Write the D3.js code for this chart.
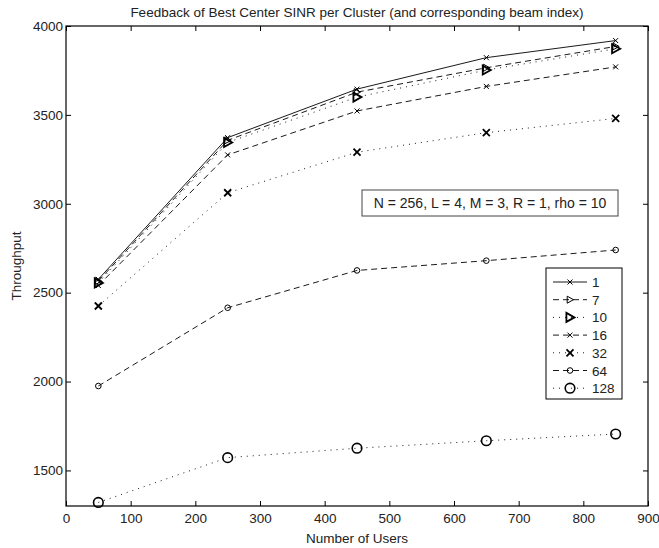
<!DOCTYPE html>
<html>
<head>
<meta charset="utf-8"/>
<script src="https://d3js.org/d3.v7.min.js"></script>
<style>
  body { margin: 0; background: #fff; }
  text { font-family: "Liberation Sans", Arial, sans-serif; fill: #222; }
</style>
</head>
<body>
<div id="chart"></div>
<script>
    // data
    var users = [50, 250, 450, 650, 850];
    var labels = ["1", "7", "10", "16", "32", "64", "128"];
    var s1   = [2575, 3372, 3645, 3822, 3918];
    var s7   = [2565, 3357, 3628, 3765, 3885];
    var s10  = [2555, 3345, 3600, 3752, 3872];
    var s16  = [2540, 3275, 3522, 3660, 3770];
    var s32  = [2425, 3062, 3290, 3400, 3480];
    var s64  = [1975, 2415, 2625, 2680, 2740];
    var s128 = [1320, 1572, 1625, 1667, 1705];
    var xTicks = [0, 100, 200, 300, 400, 500, 600, 700, 800, 900];
    var yTicks = [1500, 2000, 2500, 3000, 3500, 4000];

    var series = [s1, s7, s10, s16, s32, s64, s128];
    // line dash and marker per series
    var dash = [null, "6,4", "1,5", "6,4", "1,5", "6,4", "1,5"];
    var marker = ["x", "tri", "triB", "x", "xB", "o", "oB"];

    var width = 659, height = 548;
    var margin = {top: 26, right: 11, bottom: 42, left: 66};
    var w = width - margin.left - margin.right,
        h = height - margin.top - margin.bottom;

    var svg = d3.select("#chart").append("svg")
        .attr("width", width)
        .attr("height", height);

    var g = svg.append("g")
        .attr("transform", "translate(" + margin.left + "," + margin.top + ")");

    var x = d3.scaleLinear().domain([0, 900]).range([0, w]);
    var y = d3.scaleLinear().domain([1300, 4000]).range([h, 0]);

    // axes, MATLAB box style with ticks inside on all sides
    function styleAxis(sel) {
        sel.select(".domain").remove();
        sel.selectAll("line").attr("stroke", "#000");
        sel.selectAll("text").style("font-size", "13.5px").attr("fill", "#222");
    }
    g.append("g").attr("transform", "translate(0," + h + ")")
        .call(d3.axisBottom(x).tickValues(xTicks).tickSize(-5).tickPadding(7))
        .call(styleAxis);
    g.append("g")
        .call(d3.axisTop(x).tickValues(xTicks).tickSize(-5).tickFormat(""))
        .call(styleAxis);
    g.append("g")
        .call(d3.axisLeft(y).tickValues(yTicks).tickSize(-5).tickPadding(3).tickFormat(d3.format("d")))
        .call(styleAxis);
    g.append("g").attr("transform", "translate(" + w + ",0)")
        .call(d3.axisRight(y).tickValues(yTicks).tickSize(-5).tickFormat(""))
        .call(styleAxis);

    g.append("rect")
        .attr("width", w).attr("height", h)
        .attr("fill", "none").attr("stroke", "#000").attr("stroke-width", 1.2);

    var line = d3.line()
        .x(function(d, i) { return x(users[i]); })
        .y(function(d) { return y(d); });

    function drawMarker(sel, type, cx, cy) {
        var m = sel.append("g").attr("transform", "translate(" + cx + "," + cy + ")")
            .attr("fill", "none").attr("stroke", "#000");
        if (type == "x" || type == "xB") {
            var s = type == "x" ? 2.5 : 3.5;
            m.append("path").attr("d", "M" + (-s) + "," + (-s) + "L" + s + "," + s + "M" + (-s) + "," + s + "L" + s + "," + (-s))
                .attr("stroke-width", type == "x" ? 1 : 1.8);
        } else if (type == "tri" || type == "triB") {
            var s = type == "tri" ? 3.5 : 4.5;
            m.append("path").attr("d", "M" + (-s * 0.8) + "," + (-s) + "L" + s + ",0L" + (-s * 0.8) + "," + s + "Z")
                .attr("stroke-width", type == "tri" ? 1 : 1.8);
        } else {
            m.append("circle").attr("r", type == "o" ? 2.8 : 4.8)
                .attr("stroke-width", type == "o" ? 1 : 1.6);
        }
    }

    series.forEach(function(s, k) {
        g.append("path")
            .datum(s)
            .attr("d", line)
            .attr("fill", "none")
            .attr("stroke", "#000")
            .attr("stroke-width", 0.9)
            .attr("stroke-dasharray", dash[k]);
        s.forEach(function(v, i) {
            drawMarker(g, marker[k], x(users[i]), y(v));
        });
    });

    // annotation box
    var ann = g.append("g").attr("transform", "translate(" + (362 - margin.left) + "," + (190 - margin.top) + ")");
    ann.append("rect").attr("width", 256).attr("height", 26)
        .attr("fill", "#fff").attr("stroke", "#444").attr("stroke-width", 1);
    ann.append("text").attr("x", 128).attr("y", 18).attr("text-anchor", "middle")
        .style("font-size", "14px").text("N = 256, L = 4, M = 3, R = 1, rho = 10");

    // legend
    var lg = g.append("g").attr("transform", "translate(" + (546 - margin.left) + "," + (268 - margin.top) + ")");
    lg.append("rect").attr("width", 76).attr("height", 131)
        .attr("fill", "#fff").attr("stroke", "#000").attr("stroke-width", 1);
    labels.forEach(function(lab, k) {
        var ly = 14 + k * 17.7;
        lg.append("line").attr("x1", 7).attr("x2", 41).attr("y1", ly).attr("y2", ly)
            .attr("stroke", "#000").attr("stroke-width", 0.9)
            .attr("stroke-dasharray", dash[k]);
        drawMarker(lg, marker[k], 24, ly);
        lg.append("text").attr("x", 46).attr("y", ly + 5)
            .style("font-size", "13.5px").text(lab);
    });

    // titles
    svg.append("text").attr("x", margin.left + w / 2).attr("y", 16.5)
        .attr("text-anchor", "middle").style("font-size", "13.5px")
        .text("Feedback of Best Center SINR per Cluster (and corresponding beam index)");
    svg.append("text").attr("x", margin.left + w / 2).attr("y", 543)
        .attr("text-anchor", "middle").style("font-size", "13.5px")
        .text("Number of Users");
    svg.append("text")
        .attr("transform", "translate(21," + (margin.top + h / 2) + ") rotate(-90)")
        .attr("text-anchor", "middle").style("font-size", "13.5px")
        .text("Throughput");
</script>
</body>
</html>
